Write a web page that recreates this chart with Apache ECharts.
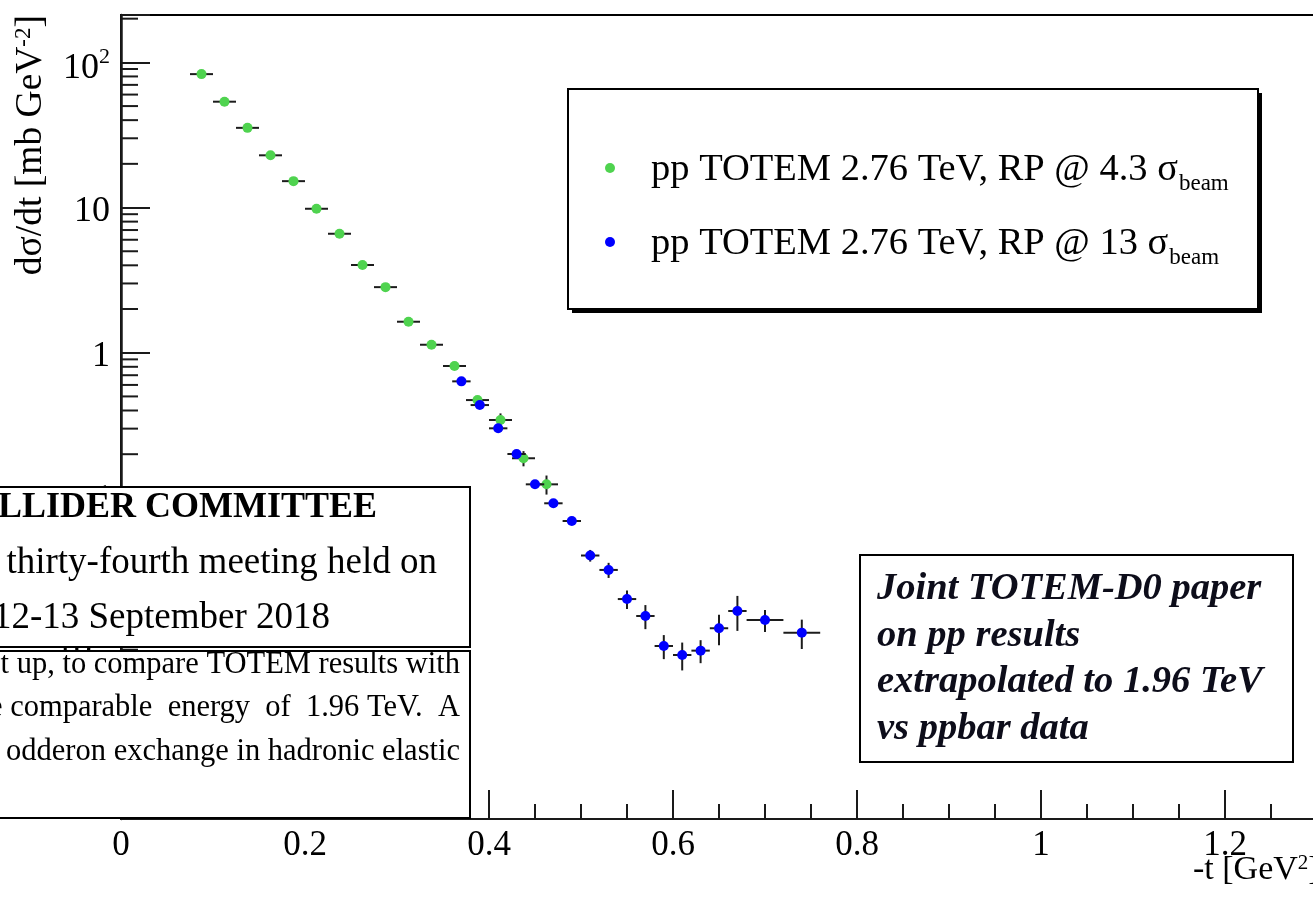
<!DOCTYPE html>
<html>
<head>
<meta charset="utf-8">
<script src="https://cdn.jsdelivr.net/npm/echarts@6/dist/echarts.min.js"></script>
<style>
html,body{margin:0;padding:0;background:#fff;}
#c{width:1313px;height:902px;}
</style>
</head>
<body>
<div id="c"></div>
<script>
// ---- data ----
const legendNames = ['pp TOTEM 2.76 TeV, RP @ 4.3 σbeam', 'pp TOTEM 2.76 TeV, RP @ 13 σbeam'];
const legendMain = ['pp TOTEM 2.76 TeV, RP @ 4.3 σ', 'pp TOTEM 2.76 TeV, RP @ 13 σ'];
const legendSub = ['beam', 'beam'];

const greenT    = [0.0875,0.1125,0.1375,0.1625,0.1875,0.2125,0.2375,0.2625,0.2875,0.3125,0.3375,0.3625,0.3875,0.4125,0.4375,0.4625];
const greenY    = [83.0,53.6,35.4,22.9,15.2,9.81,6.60,4.02,2.83,1.635,1.135,0.810,0.472,0.344,0.1875,0.124];
const greenTErr = [0.0125,0.0125,0.0125,0.0125,0.0125,0.0125,0.0125,0.0125,0.0125,0.0125,0.0125,0.0125,0.0125,0.0125,0.0125,0.0125];
const greenYErr = [0.8,0.5,0.35,0.23,0.15,0.10,0.07,0.05,0.04,0.03,0.025,0.02,0.019,0.038,0.0225,0.0186];

const blueT    = [0.37,0.39,0.41,0.43,0.45,0.47,0.49,0.51,0.53,0.55,0.57,0.59,0.61,0.63,0.65,0.67,0.70,0.74];
const blueY    = [0.635,0.436,0.3015,0.2006,0.124,0.0918,0.0693,0.0401,0.0319,0.0201,0.01537,0.00955,0.00828,0.00887,0.01265,0.01663,0.01442,0.0118];
const blueTErr = [0.01,0.01,0.01,0.01,0.01,0.01,0.01,0.01,0.01,0.01,0.01,0.01,0.01,0.01,0.01,0.01,0.02,0.02];
const blueYErr = [0.019,0.013,0.0106,0.008,0.0056,0.0046,0.0042,0.0037,0.0038,0.0029,0.0029,0.0018,0.0018,0.0016,0.0030,0.0045,0.0025,0.0027];

const xTickLabels = ['0','0.2','0.4','0.6','0.8','1','1.2','1.4'];
const yTickExponents = [-3,-2,-1,0,1,2];
const yTickLabels = ['{n|10}{sup|-3}','{n|10}{sup|-2}','{n|10}{sup|-1}','1','10','{n|10}{sup|2}'];
const yMinorMultipliers = [2,3,4,5,6,7,8,9];
const yDecades = [1e-4,1e-3,1e-2,1e-1,1,10,100];

const xMin = 0, xMax = 1.4, xStep = 0.2;
const yMin = 6.14e-4, yMax = 212;

// ---- helpers ----
const FONT = 'Liberation Serif, Times New Roman, serif';
const AX = '#1a1a1a';
const yMinorTicks = [];
yDecades.forEach(d => yMinorMultipliers.forEach(m => { const v = d * m; if (v > yMin && v < yMax) yMinorTicks.push(v); }));

function zipErr(t, y, dt, dy) { return t.map((v, i) => [v, y[i], dt[i], dy[i]]); }
function zipPts(t, y) { return t.map((v, i) => [v, y[i]]); }

function errRender(params, api) {
  const x = api.value(0), y = api.value(1), dx = api.value(2), dy = api.value(3);
  const l = api.coord([x - dx, y]), r = api.coord([x + dx, y]);
  const t = api.coord([x, y + dy]), b = api.coord([x, Math.max(y - dy, yMin)]);
  const st = { stroke: '#1c1c1c', lineWidth: 2 };
  return { type: 'group', children: [
    { type: 'line', shape: { x1: l[0], y1: l[1], x2: r[0], y2: r[1] }, style: st },
    { type: 'line', shape: { x1: t[0], y1: t[1], x2: b[0], y2: b[1] }, style: st }
  ]};
}

const chart = echarts.init(document.getElementById('c'), null, { renderer: 'canvas' });

const BI = { fontFamily: FONT, fontWeight: 'bold', fontStyle: 'italic', fontSize: 38.5, fill: '#0d0d1a', align: 'left', verticalAlign: 'middle' };

const option = {
  animation: false,
  backgroundColor: '#fff',
  grid: { left: 121, top: 15, width: 1288, height: 804, show: true, borderColor: '#000', borderWidth: 2, backgroundColor: 'transparent', outerBoundsMode: 'none', containLabel: false },
  xAxis: {
    type: 'value', min: xMin, max: xMax, interval: xStep, position: 'bottom',
    axisLine: { show: true, onZero: false, lineStyle: { color: AX, width: 2 } },
    axisTick: { show: true, inside: true, length: 29, lineStyle: { color: AX, width: 2 } },
    minorTick: { show: true, splitNumber: 4, length: 15, lineStyle: { color: AX, width: 2 } },
    splitLine: { show: false }, minorSplitLine: { show: false },
    axisLabel: { margin: 9, color: '#000', fontFamily: FONT, fontSize: 35,
      formatter: v => xTickLabels[Math.round((v - xMin) / xStep)] ?? '' }
  },
  yAxis: {
    type: 'log', logBase: 10, min: yMin, max: yMax,
    axisLine: { show: true, lineStyle: { color: AX, width: 2.5 } },
    axisTick: { show: true, inside: true, length: 29, lineStyle: { color: AX, width: 2 } },
    minorTick: { show: false },
    splitLine: { show: false },
    axisLabel: { margin: 11, color: '#000', fontFamily: FONT, fontSize: 36, padding: [8, 0, 0, 0],
      formatter: v => {
        const e = Math.log10(v), r = Math.round(e);
        if (Math.abs(e - r) > 1e-6) return '';
        const i = yTickExponents.indexOf(r);
        return i < 0 ? '' : yTickLabels[i];
      },
      rich: {
        n: { fontFamily: FONT, fontSize: 36, color: '#000', padding: [4, 0, 0, 0] },
        sup: { fontFamily: FONT, fontSize: 22, color: '#000', verticalAlign: 'top' }
      }
    }
  },
  legend: {
    orient: 'vertical', left: 568, top: 89,
    padding: [61, 20, 30, 37],
    itemWidth: 10, itemHeight: 10, itemGap: 29,
    icon: 'circle',
    backgroundColor: 'transparent', borderWidth: 0,
    selectedMode: false,
    data: legendNames,
    formatter: name => { const i = legendNames.indexOf(name); return '{m|' + legendMain[i] + '}{sub|' + legendSub[i] + '}'; },
    textStyle: { color: '#000', fontFamily: FONT, fontSize: 38.5, padding: [0, 0, 0, 31],
      rich: {
        m: { fontFamily: FONT, fontSize: 38.5, color: '#000', verticalAlign: 'top', padding: [9, 0, 0, 0] },
        sub: { fontFamily: FONT, fontSize: 23, color: '#000', verticalAlign: 'top', padding: [31, 0, 0, 1] }
      }
    }
  },
  series: [
    { type: 'custom', name: 'y minor ticks', silent: true, z: 3, renderItem: (p, api) => {
        const c = api.coord([xMin, api.value(1)]);
        return { type: 'line', shape: { x1: c[0], y1: c[1], x2: c[0] + 17, y2: c[1] }, style: { stroke: AX, lineWidth: 2 } };
      }, data: yMinorTicks.map(v => [xMin, v]) },
    { type: 'custom', name: 'green errors', silent: true, z: 4, renderItem: errRender, data: zipErr(greenT, greenY, greenTErr, greenYErr) },
    { type: 'scatter', name: legendNames[0], z: 5, symbol: 'circle', symbolSize: 10, itemStyle: { color: '#4fd34f', opacity: 1 }, silent: true, data: zipPts(greenT, greenY) },
    { type: 'custom', name: 'blue errors', silent: true, z: 6, renderItem: errRender, data: zipErr(blueT, blueY, blueTErr, blueYErr) },
    { type: 'scatter', name: legendNames[1], z: 7, symbol: 'circle', symbolSize: 10, itemStyle: { color: '#0000ff', opacity: 1 }, silent: true, data: zipPts(blueT, blueY) }
  ],
  graphic: { elements: [
    // legend frame with shadow
    { type: 'rect', z: 1, silent: true, shape: { x: 572, y: 93, width: 690, height: 220 }, style: { fill: '#000' } },
    { type: 'rect', z: 1, silent: true, shape: { x: 568, y: 89, width: 690, height: 220 }, style: { fill: '#fff', stroke: '#000', lineWidth: 2 } },
    // axis titles
    { type: 'text', x: 31, y: 15, rotation: Math.PI / 2, z: 50, silent: true,
      style: { text: '{a|dσ/dt [mb GeV}{s|-2}{a|]}', align: 'right', verticalAlign: 'middle', fill: '#000',
        rich: { a: { fontFamily: FONT, fontSize: 37.5, fill: '#000' }, s: { fontFamily: FONT, fontSize: 23, verticalAlign: 'top', fill: '#000' } } } },
    { type: 'text', x: 1193, y: 870, z: 50, silent: true,
      style: { text: '{a|-t [GeV}{s|2}{a|]}', align: 'left', verticalAlign: 'middle', fill: '#000',
        rich: { a: { fontFamily: FONT, fontSize: 34, fill: '#000' }, s: { fontFamily: FONT, fontSize: 21, verticalAlign: 'top', fill: '#000' } } } },
    // overlay box 1
    { type: 'rect', z: 100, silent: true, shape: { x: -3, y: 487, width: 473, height: 160 }, style: { fill: '#fff', stroke: '#000', lineWidth: 2 } },
    { type: 'text', z: 101, silent: true, x: 377, y: 508, style: { text: 'LLIDER COMMITTEE', fontFamily: FONT, fontWeight: 'bold', fontSize: 36, fill: '#000', align: 'right', verticalAlign: 'middle' } },
    { type: 'text', z: 101, silent: true, x: 437, y: 563, style: { text: 'thirty-fourth meeting held on', fontFamily: FONT, fontSize: 37, fill: '#000', align: 'right', verticalAlign: 'middle' } },
    { type: 'text', z: 101, silent: true, x: 330, y: 618, style: { text: '12-13 September 2018', fontFamily: FONT, fontSize: 37, fill: '#000', align: 'right', verticalAlign: 'middle' } },
    // overlay box 2
    { type: 'rect', z: 100, silent: true, shape: { x: -3, y: 651, width: 473, height: 167 }, style: { fill: '#fff', stroke: '#000', lineWidth: 2 } },
    { type: 'text', z: 101, silent: true, x: 460, y: 665, style: { text: 't up, to compare TOTEM results with', fontFamily: FONT, fontSize: 30.5, fill: '#000', align: 'right', verticalAlign: 'middle' } },
    { type: 'text', z: 101, silent: true, x: 460, y: 708, style: { text: 'e comparable  energy  of  1.96 TeV.  A', fontFamily: FONT, fontSize: 30.5, fill: '#000', align: 'right', verticalAlign: 'middle' } },
    { type: 'text', z: 101, silent: true, x: 460, y: 752, style: { text: 'r odderon exchange in hadronic elastic', fontFamily: FONT, fontSize: 30.5, fill: '#000', align: 'right', verticalAlign: 'middle' } },
    // TOTEM-D0 box
    { type: 'rect', z: 100, silent: true, shape: { x: 860, y: 555, width: 433, height: 207 }, style: { fill: '#fff', stroke: '#000', lineWidth: 2 } },
    { type: 'text', z: 101, silent: true, x: 877, y: 589, style: Object.assign({ text: 'Joint TOTEM-D0 paper' }, BI) },
    { type: 'text', z: 101, silent: true, x: 877, y: 636, style: Object.assign({ text: 'on pp results' }, BI) },
    { type: 'text', z: 101, silent: true, x: 877, y: 682, style: Object.assign({ text: 'extrapolated to 1.96 TeV' }, BI) },
    { type: 'text', z: 101, silent: true, x: 877, y: 729, style: Object.assign({ text: 'vs ppbar data' }, BI) }
  ]}
};

chart.setOption(option);
</script>
</body>
</html>
